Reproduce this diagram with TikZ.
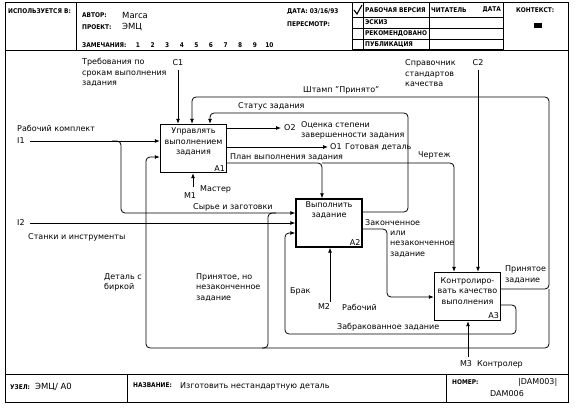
\documentclass[tikz,border=0pt]{standalone}
\usepackage{fontspec}
\setmainfont{DejaVu Sans}
\newfontfamily\hdfont{DejaVu Sans Condensed}
\usetikzlibrary{arrows.meta,positioning,calc}
\tikzset{
  blk/.style={draw,line width=1.4pt,minimum width=66pt,minimum height=48pt,inner sep=0pt},
  txt/.style={font=\fontsize{8}{10.5}\selectfont,inner sep=0pt,align=left,anchor=west},
  hd/.style={font=\hdfont\fontsize{6.5}{7}\selectfont\bfseries,inner sep=0pt,anchor=west},
  arr/.style={-{Latex[length=5pt,width=4pt]},line width=.8pt,rounded corners=4pt},
  ln/.style={line width=.8pt,rounded corners=4pt}
}
\begin{document}
\begin{tikzpicture}[x=1pt,y=-1pt]
		\useasboundingbox (0,0) rectangle (575,409);
		% рамка бланка
		\draw[line width=1pt] (5,3) rectangle (568,402);
		\draw[line width=1pt] (5,51)--(568,51) (5,374)--(568,374);
		\draw[line width=.9pt] (76,3)--(76,51) (127,374)--(127,402) (446,374)--(446,402);
		\draw[line width=1pt] (352,3) rectangle (503,50);
		\foreach \y in {17,28,39}
		\draw[line width=.8pt] (352,\y)--(503,\y);
		\draw[line width=.8pt] (363,3)--(363,50) (429,3)--(429,50);
		\draw[line width=1.1pt] (354,10)--(357,14)--(362,5);
		\fill (534,23) rectangle (542,28);
		
		\node[hd] (use) at (8,11) {ИСПОЛЬЗУЕТСЯ В:};
		\node[hd] (aut) at (82,15) {АВТОР:};
		\node[txt,font=\fontsize{8.5}{10}\selectfont] (autn) at (122,15) {Marca};
		\node[hd] (prj) at (82,27) {ПРОЕКТ:};
		\node[txt,font=\fontsize{8.5}{10}\selectfont] (prjn) at (122,27) {ЭМЦ};
		\node[hd] (rem) at (82,45) {ЗАМЕЧАНИЯ:};
		\foreach \n in {1,...,10}
		\node[hd,anchor=center] (rem\n) at (138+14.6*\n-14.6,45) {\n};
		\node[hd] (dat) at (287,12) {ДАТА: 03/16/93};
		\node[hd] (rev) at (287,24) {ПЕРЕСМОТР:};
		\node[hd] (wv) at (365,10) {РАБОЧАЯ ВЕРСИЯ};
		\node[hd] (sk) at (365,22.5) {ЭСКИЗ};
		\node[hd] (rc) at (365,33.5) {РЕКОМЕНДОВАНО};
		\node[hd] (pb) at (365,44.5) {ПУБЛИКАЦИЯ};
		\node[hd] (rd) at (431,10) {ЧИТАТЕЛЬ};
		\node[hd,anchor=east] (rdd) at (501,10) {ДАТА};
		\node[hd] (ctx) at (516,10) {КОНТЕКСТ:};
		\node[hd] (nd) at (10,387) {УЗЕЛ:};
		\node[txt,font=\fontsize{8.5}{10}\selectfont] (ndn) at (35,387) {ЭМЦ/ А0};
		\node[hd] (nm) at (133,385) {НАЗВАНИЕ:};
		\node[txt] (nmt) at (180,386) {Изготовить нестандартную деталь};
		\node[hd] (no) at (452,382) {НОМЕР:};
		\node[txt] (no1) at (518,382) {|DAM003|};
		\node[txt] (no2) at (490,394) {DAM006};
		
		% блоки
		\node[blk] (A1) at (193.5,148.5) {};
		\node[blk] (A2) at (329,223) {};
		\node[blk] (A3) at (467.5,296.5) {};
		\node[txt,align=center,anchor=center] (A1t) at (193.5,142) {Управлять\\выполнением\\задания};
		\node[txt,align=center,anchor=center] (A2t) at (329,210) {Выполнить\\задание};
		\node[txt,align=center,anchor=center] (A3t) at (467.5,291) {Контролиро-\\вать качество\\выполнения};
		\node[txt,anchor=south east] (A1n) at ([shift={(-2pt,2pt)}]A1.south east) {A1};
		\node[txt,anchor=south east] (A2n) at ([shift={(-2pt,2pt)}]A2.south east) {A2};
		\node[txt,anchor=south east] (A3n) at ([shift={(-2pt,2pt)}]A3.south east) {A3};
		
		\coordinate (c1) at (178,70);
		\coordinate (c2) at (478,70);
		\coordinate (i1) at (30,141);
		\coordinate (i2) at (30,223);
		\coordinate (o1) at (328,147);
		\coordinate (o2) at (281,128);
		\coordinate (m1) at (193,187);
		\coordinate (m2) at (330,302);
		\coordinate (m3) at (468,357);
		
		% стрелки
		\draw[arr] (c1)--(c1 |- A1.north);
		\draw[arr] (c2)--(c2 |- A3.north);
		\draw[arr] (i1)--(i1 -| A1.west);
		\draw[arr] (112,141)-|(121,213)--(A2.west |- 0,213);
		\draw[arr] (i2)--(i2 -| A2.west);
		\draw[arr] (A1.east |- o2)--(o2);
		\draw[arr] (A1.east |- o1)--(o1);
		\draw[arr] (A1.east |- 0,163)--(322,163)--(322,0 |- A2.north);
		\draw[arr] (322,163)--(454,163)--(454,0 |- A3.north);
		\draw[arr] (A2.east |- 0,212)--(408,212)--(408,113)--(210,113)--(210,0 |- A1.north);
		\draw[arr] (A3.east |- 0,289)--(549,289)--(549,97)--(192,97)--(192,0 |- A1.north);
		\draw[arr] (549,289)--(549,348)--(146,348)--(146,157)--(A1.west |- 0,157);
		\draw[ln] (262,348)--(268,348)--(268,213)--(276,213);
		\draw[arr] (A2.east |- 0,229)--(387,229)--(387,297)--(A3.west |- 0,297);
		\draw[arr] (A3.east |- 0,305)--(516,305)--(516,334)--(285,334)--(285,233)--(A2.west |- 0,233);
		\draw[arr] (m1)--(m1 |- A1.south);
		\draw[arr] (m2)--(m2 |- A2.south);
		\draw[arr] (m3)--(m3 |- A3.south);
		
		% подписи
		\node[txt,anchor=center] (c1l) at (178,63) {C1};
		\node[txt] (c1t) at (82,72.5) {Требования по\\срокам выполнения\\задания};
		\node[txt,anchor=center] (c2l) at (478,63) {C2};
		\node[txt] (c2t) at (405,73.5) {Справочник\\стандартов\\качества};
		\node[txt] (i1l) at (17,141) {I1};
		\node[txt] (i1t) at (17,128) {Рабочий комплект};
		\node[txt] (i2l) at (17,223) {I2};
		\node[txt] (i2t) at (28,237) {Станки и инструменты};
		\node[txt] (raw) at (193,207) {Сырье и заготовки};
		\node[txt] (stat) at (238,106) {Статус задания};
		\node[txt] (stmp) at (303,90) {Штамп "Принято"};
		\node[txt] (o2l) at (284,128) {O2};
		\node[txt] (o2t) at (301,130.5) {Оценка степени\\завершенности задания};
		\node[txt] (o1l) at (330,147) {O1};
		\node[txt] (o1t) at (345,147) {Готовая деталь};
		\node[txt] (plan) at (230,157) {План выполнения задания};
		\node[txt] (drw) at (418,155) {Чертеж};
		\node[txt,anchor=center] (m1l) at (190,196) {M1};
		\node[txt] (m1t) at (200,189) {Мастер};
		\node[txt] (tag) at (104,282.5) {Деталь с\\биркой};
		\node[txt] (acc) at (196,287.5) {Принятое, но\\незаконченное\\задание};
		\node[txt] (rej) at (290,291) {Брак};
		\node[txt,anchor=center] (m2l) at (324,307) {M2};
		\node[txt] (m2t) at (342,307) {Рабочий};
		\node[txt] (done) at (365,223) {Законченное};
		\node[txt] (done2) at (390,244) {или\\незаконченное\\задание};
		\node[txt] (accd) at (505,274.5) {Принятое\\задание};
		\node[txt] (rejd) at (337,327) {Забракованное задание};
		\node[txt,anchor=center] (m3l) at (466,364) {M3};
		\node[txt] (m3t) at (477,364) {Контролер};
\end{tikzpicture}
\end{document}
